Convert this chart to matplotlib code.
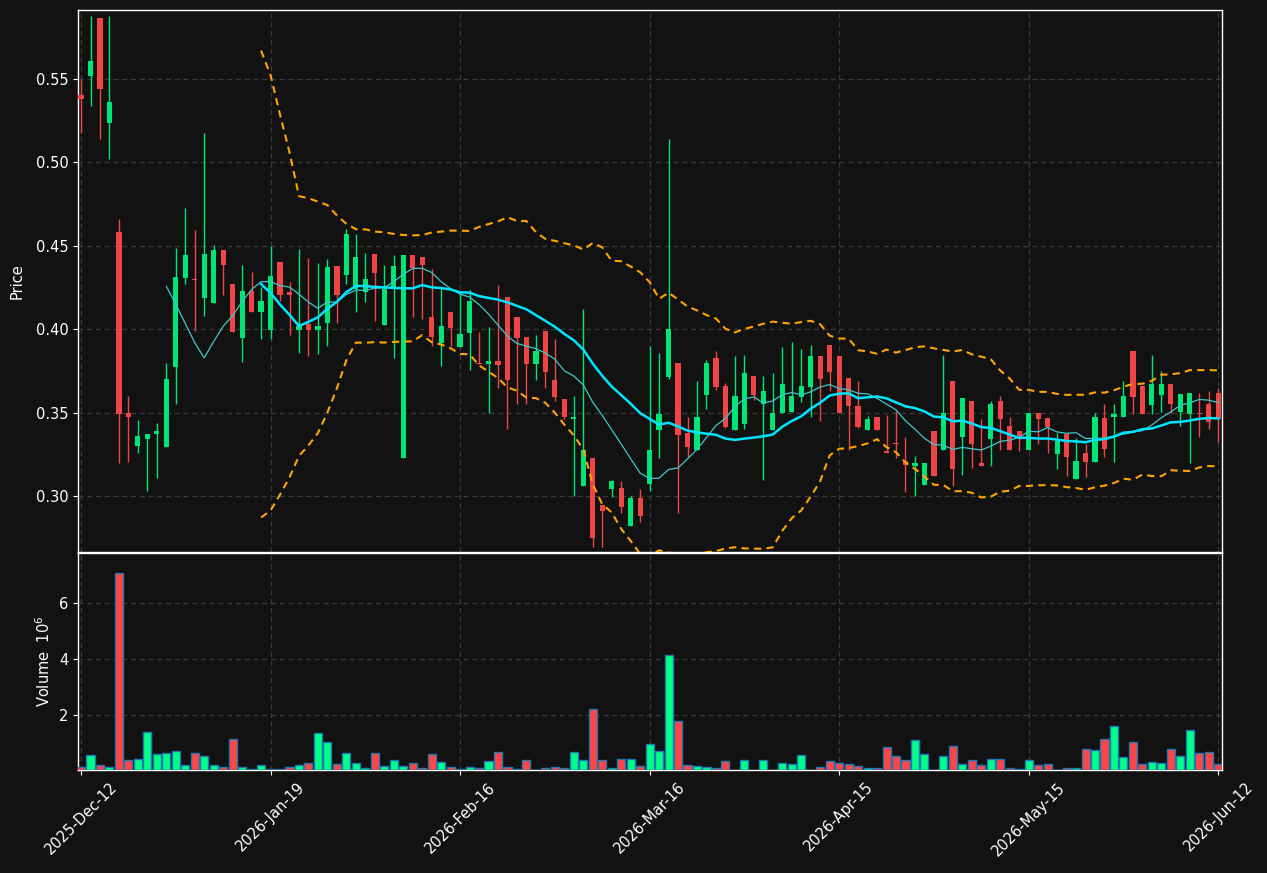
import numpy as np
import pandas as pd
import matplotlib
matplotlib.use("Agg")
import matplotlib.pyplot as plt
from matplotlib.ticker import FuncFormatter, FixedLocator, MultipleLocator

# ---------------- data ----------------
opens = [0.5402, 0.5517, 0.5862, 0.5236, 0.4580, 0.3499, 0.3304, 0.3345, 0.3374, 0.3297,
         0.3776, 0.4308, 0.4302, 0.4190, 0.4158, 0.4475, 0.4271, 0.3948, 0.4229, 0.4104,
         0.3996, 0.4402, 0.4223, 0.3998, 0.4031, 0.3998, 0.4040, 0.4379, 0.4327, 0.4242,
         0.4221, 0.4450, 0.4027, 0.4252, 0.3227, 0.4443, 0.4431, 0.4073, 0.3919, 0.4102,
         0.3896, 0.3980, 0.3799, 0.3794, 0.3809, 0.4192, 0.4073, 0.3952, 0.3794, 0.3990,
         0.3699, 0.3586, 0.3466, 0.3060, 0.3227, 0.2946, 0.3046, 0.3050, 0.2821, 0.2989,
         0.3077, 0.3399, 0.3715, 0.3799, 0.3378, 0.3280, 0.3607, 0.3828, 0.3659, 0.3399,
         0.3435, 0.3720, 0.3551, 0.3399, 0.3497, 0.3507, 0.3597, 0.3655, 0.3840, 0.3909,
         0.3840, 0.3707, 0.3541, 0.3399, 0.3478, 0.3270, 0.3318, 0.3212, 0.3179, 0.3066,
         0.3391, 0.3280, 0.3690, 0.3358, 0.3570, 0.3200, 0.3341, 0.3570, 0.3420, 0.3391,
         0.3280, 0.3499, 0.3468, 0.3254, 0.3372, 0.3104, 0.3260, 0.3208, 0.3468, 0.3476,
         0.3476, 0.3869, 0.3659, 0.3549, 0.3607, 0.3672, 0.3507, 0.3493, 0.3499, 0.3551,
         0.3618]
highs = [0.5500, 0.5879, 0.5865, 0.5879, 0.4658, 0.3601, 0.3457, 0.3372, 0.3437, 0.3796,
         0.4489, 0.4728, 0.4597, 0.5178, 0.4506, 0.4475, 0.4271, 0.4385, 0.4346, 0.4252,
         0.4502, 0.4402, 0.4281, 0.4481, 0.4429, 0.4398, 0.4423, 0.4379, 0.4599, 0.4568,
         0.4460, 0.4450, 0.4387, 0.4448, 0.4443, 0.4443, 0.4431, 0.4360, 0.4252, 0.4102,
         0.4210, 0.4235, 0.3982, 0.4017, 0.4267, 0.4192, 0.4073, 0.3952, 0.3969, 0.3990,
         0.3940, 0.3586, 0.3601, 0.4119, 0.3227, 0.2946, 0.3098, 0.3091, 0.3004, 0.3046,
         0.3898, 0.3857, 0.5142, 0.3799, 0.3478, 0.3690, 0.3819, 0.3869, 0.3676, 0.3840,
         0.3848, 0.3720, 0.3720, 0.3738, 0.3894, 0.3925, 0.3880, 0.3909, 0.3840, 0.3909,
         0.3840, 0.3707, 0.3690, 0.3482, 0.3478, 0.3487, 0.3514, 0.3358, 0.3243, 0.3200,
         0.3391, 0.3846, 0.3690, 0.3589, 0.3570, 0.3462, 0.3570, 0.3601, 0.3478, 0.3391,
         0.3499, 0.3499, 0.3468, 0.3378, 0.3372, 0.3347, 0.3316, 0.3499, 0.3551, 0.3551,
         0.3690, 0.3869, 0.3659, 0.3846, 0.3749, 0.3672, 0.3611, 0.3618, 0.3618, 0.3628,
         0.3649]
lows = [0.5178, 0.5338, 0.5142, 0.5022, 0.3197, 0.3208, 0.3258, 0.3033, 0.3108, 0.3297,
        0.3551, 0.4269, 0.3988, 0.4077, 0.4158, 0.4208, 0.3984, 0.3807, 0.4106, 0.3940,
        0.3944, 0.4169, 0.3969, 0.3857, 0.3840, 0.3850, 0.3898, 0.4040, 0.4273, 0.4106,
        0.4165, 0.4048, 0.4027, 0.3826, 0.3227, 0.4075, 0.4059, 0.3898, 0.3778, 0.3898,
        0.3896, 0.3757, 0.3790, 0.3497, 0.3649, 0.3403, 0.3551, 0.3551, 0.3699, 0.3649,
        0.3570, 0.3462, 0.3002, 0.3060, 0.2696, 0.2696, 0.2998, 0.2900, 0.2821, 0.2848,
        0.3035, 0.3227, 0.3705, 0.2900, 0.3233, 0.3280, 0.3524, 0.3638, 0.3408, 0.3399,
        0.3403, 0.3576, 0.3098, 0.3399, 0.3497, 0.3507, 0.3566, 0.3478, 0.3449, 0.3628,
        0.3497, 0.3279, 0.3408, 0.3399, 0.3399, 0.3258, 0.3229, 0.3029, 0.3000, 0.3066,
        0.3125, 0.3280, 0.3062, 0.3129, 0.3170, 0.3179, 0.3181, 0.3280, 0.3280, 0.3270,
        0.3280, 0.3316, 0.3258, 0.3166, 0.3125, 0.3104, 0.3118, 0.3208, 0.3237, 0.3208,
        0.3476, 0.3493, 0.3493, 0.3493, 0.3507, 0.3499, 0.3420, 0.3197, 0.3358, 0.3405,
        0.3326]
closes = [0.5379, 0.5604, 0.5440, 0.5359, 0.3493, 0.3476, 0.3360, 0.3372, 0.3391, 0.3701,
          0.4312, 0.4443, 0.4296, 0.4450, 0.4475, 0.4385, 0.3986, 0.4229, 0.4106, 0.4169,
          0.4319, 0.4206, 0.4206, 0.4023, 0.3998, 0.4019, 0.4373, 0.4206, 0.4570, 0.4431,
          0.4300, 0.4337, 0.4240, 0.4379, 0.4443, 0.4366, 0.4383, 0.3955, 0.4019, 0.4009,
          0.3971, 0.4169, 0.3790, 0.3809, 0.3788, 0.3699, 0.3948, 0.3794, 0.3869, 0.3747,
          0.3597, 0.3476, 0.3478, 0.3280, 0.2748, 0.2910, 0.3091, 0.2937, 0.2989, 0.2883,
          0.3280, 0.3493, 0.4000, 0.3368, 0.3295, 0.3478, 0.3799, 0.3655, 0.3414, 0.3601,
          0.3738, 0.3607, 0.3630, 0.3499, 0.3672, 0.3601, 0.3659, 0.3840, 0.3703, 0.3747,
          0.3497, 0.3539, 0.3416, 0.3466, 0.3399, 0.3258, 0.3314, 0.3185, 0.3200, 0.3200,
          0.3125, 0.3499, 0.3166, 0.3589, 0.3316, 0.3179, 0.3555, 0.3462, 0.3280, 0.3358,
          0.3499, 0.3462, 0.3416, 0.3331, 0.3237, 0.3212, 0.3208, 0.3478, 0.3285, 0.3493,
          0.3601, 0.3597, 0.3493, 0.3672, 0.3672, 0.3555, 0.3611, 0.3618, 0.3493, 0.3447,
          0.3462]
volume_millions = [0.10, 0.54, 0.18, 0.11, 7.10, 0.36, 0.40, 1.37, 0.58, 0.61,
                   0.68, 0.18, 0.61, 0.50, 0.18, 0.11, 1.12, 0.13, 0.03, 0.18,
                   0.03, 0.03, 0.13, 0.18, 0.25, 1.33, 1.01, 0.22, 0.61, 0.25,
                   0.07, 0.61, 0.14, 0.36, 0.14, 0.25, 0.07, 0.58, 0.29, 0.13,
                   0.04, 0.11, 0.06, 0.32, 0.65, 0.11, 0.04, 0.36, 0.02, 0.07,
                   0.11, 0.07, 0.65, 0.36, 2.20, 0.36, 0.07, 0.40, 0.40, 0.14,
                   0.94, 0.68, 4.14, 1.77, 0.18, 0.14, 0.11, 0.07, 0.32, 0.02,
                   0.36, 0.02, 0.36, 0.02, 0.25, 0.22, 0.54, 0.02, 0.11, 0.32,
                   0.25, 0.22, 0.14, 0.06, 0.06, 0.83, 0.50, 0.36, 1.08, 0.58,
                   0.02, 0.50, 0.86, 0.22, 0.36, 0.18, 0.40, 0.40, 0.07, 0.04,
                   0.36, 0.18, 0.22, 0.02, 0.07, 0.07, 0.76, 0.72, 1.12, 1.59,
                   0.47, 1.01, 0.22, 0.29, 0.25, 0.76, 0.50, 1.44, 0.61, 0.65,
                   0.22]
tick_labels = ["2025-Dec-12", "2026-Jan-19", "2026-Feb-16", "2026-Mar-16",
               "2026-Apr-15", "2026-May-15", "2026-Jun-12"]
tick_every = 20
ma_short, ma_long, bb_k = 10, 20, 2

# ---------------- derived ----------------
df = pd.DataFrame({"Open": opens, "High": highs, "Low": lows, "Close": closes,
                   "Volume": np.array(volume_millions) * 1e6})
n = len(df)
x = np.arange(n)
close_s = df["Close"]
ma10 = close_s.rolling(ma_short).mean()
ma20 = close_s.rolling(ma_long).mean()
sd20 = close_s.rolling(ma_long).std(ddof=0)
bb_up = ma20 + bb_k * sd20
bb_dn = ma20 - bb_k * sd20

BG = "#121212"
UP = "#00E676"
DN = "#F04545"
VUP = "#00FF88"
VDN = "#FF4545"
GRID = "#3a3a3a"

W, H = 1267, 873
fig = plt.figure(figsize=(W / 100, H / 100), dpi=100, facecolor=BG)
left, right = 78 / W, 1222 / W
axp = fig.add_axes([left, (H - 552) / H, right - left, (552 - 10) / H], facecolor=BG)
axv = fig.add_axes([left, (H - 770) / H, right - left, (770 - 553) / H], facecolor=BG, sharex=axp)

up = df["Close"] >= df["Open"]
ccol = np.where(up, UP, DN)
vcol = np.where(up, VUP, VDN)

# candles
axp.vlines(x, df["Low"], df["High"], colors=ccol, linewidth=1.0, zorder=3)
body_lo = np.minimum(df["Open"], df["Close"])
body_h = np.maximum(np.abs(df["Close"] - df["Open"]), 0.0006)
axp.bar(x, body_h, bottom=body_lo, width=0.55, color=ccol, linewidth=0, zorder=4)

# indicators
axp.plot(x, ma10, color="#3cc8cc", linewidth=0.9, zorder=5)
axp.plot(x, ma20, color="#00E5FF", linewidth=1.8, zorder=5)
axp.plot(x, bb_up, color="#FFA500", linewidth=1.5, linestyle=(0, (3.5, 2.5)), zorder=5)
axp.plot(x, bb_dn, color="#FFA500", linewidth=1.5, linestyle=(0, (3.5, 2.5)), zorder=5)

axp.set_ylim(0.2667, 0.5912)
axp.set_xlim(-0.32, 120.4)
axp.yaxis.set_major_locator(MultipleLocator(0.05))
axp.yaxis.set_major_formatter(FuncFormatter(lambda v, p: f"{v:.2f}"))
axp.set_ylabel("Price", color="white", fontsize=10.5, labelpad=8)

# volume
axv.bar(x, df["Volume"], width=0.85, color=vcol, edgecolor="#1f77b4", linewidth=1.0, zorder=3)
vmax = df["Volume"].max()
vmin = df["Volume"].min()
axv.set_ylim(0.3 * vmin, 1.1 * vmax)
axv.yaxis.set_major_locator(MultipleLocator(2e6))
axv.yaxis.set_major_formatter(FuncFormatter(lambda v, p: f"{v / 1e6:g}"))
axv.set_ylabel("Volume  $10^{6}$", color="white", fontsize=10.5)

ticks = list(range(0, n, tick_every))
for ax in (axp, axv):
    ax.xaxis.set_major_locator(FixedLocator(ticks))
    ax.grid(True, color=GRID, linestyle=(0, (4, 3)), linewidth=0.9, zorder=0)
    ax.set_axisbelow(True)
    for s in ax.spines.values():
        s.set_color("white")
        s.set_linewidth(1.0)
    ax.tick_params(colors="white", labelsize=10.5)

axp.tick_params(axis="x", bottom=False, labelbottom=False)
axv.set_xticklabels(tick_labels, rotation=45, ha="center")
axv.tick_params(axis="x", labelsize=10.5)

fig.savefig("out.png", dpi=100, facecolor=BG)
